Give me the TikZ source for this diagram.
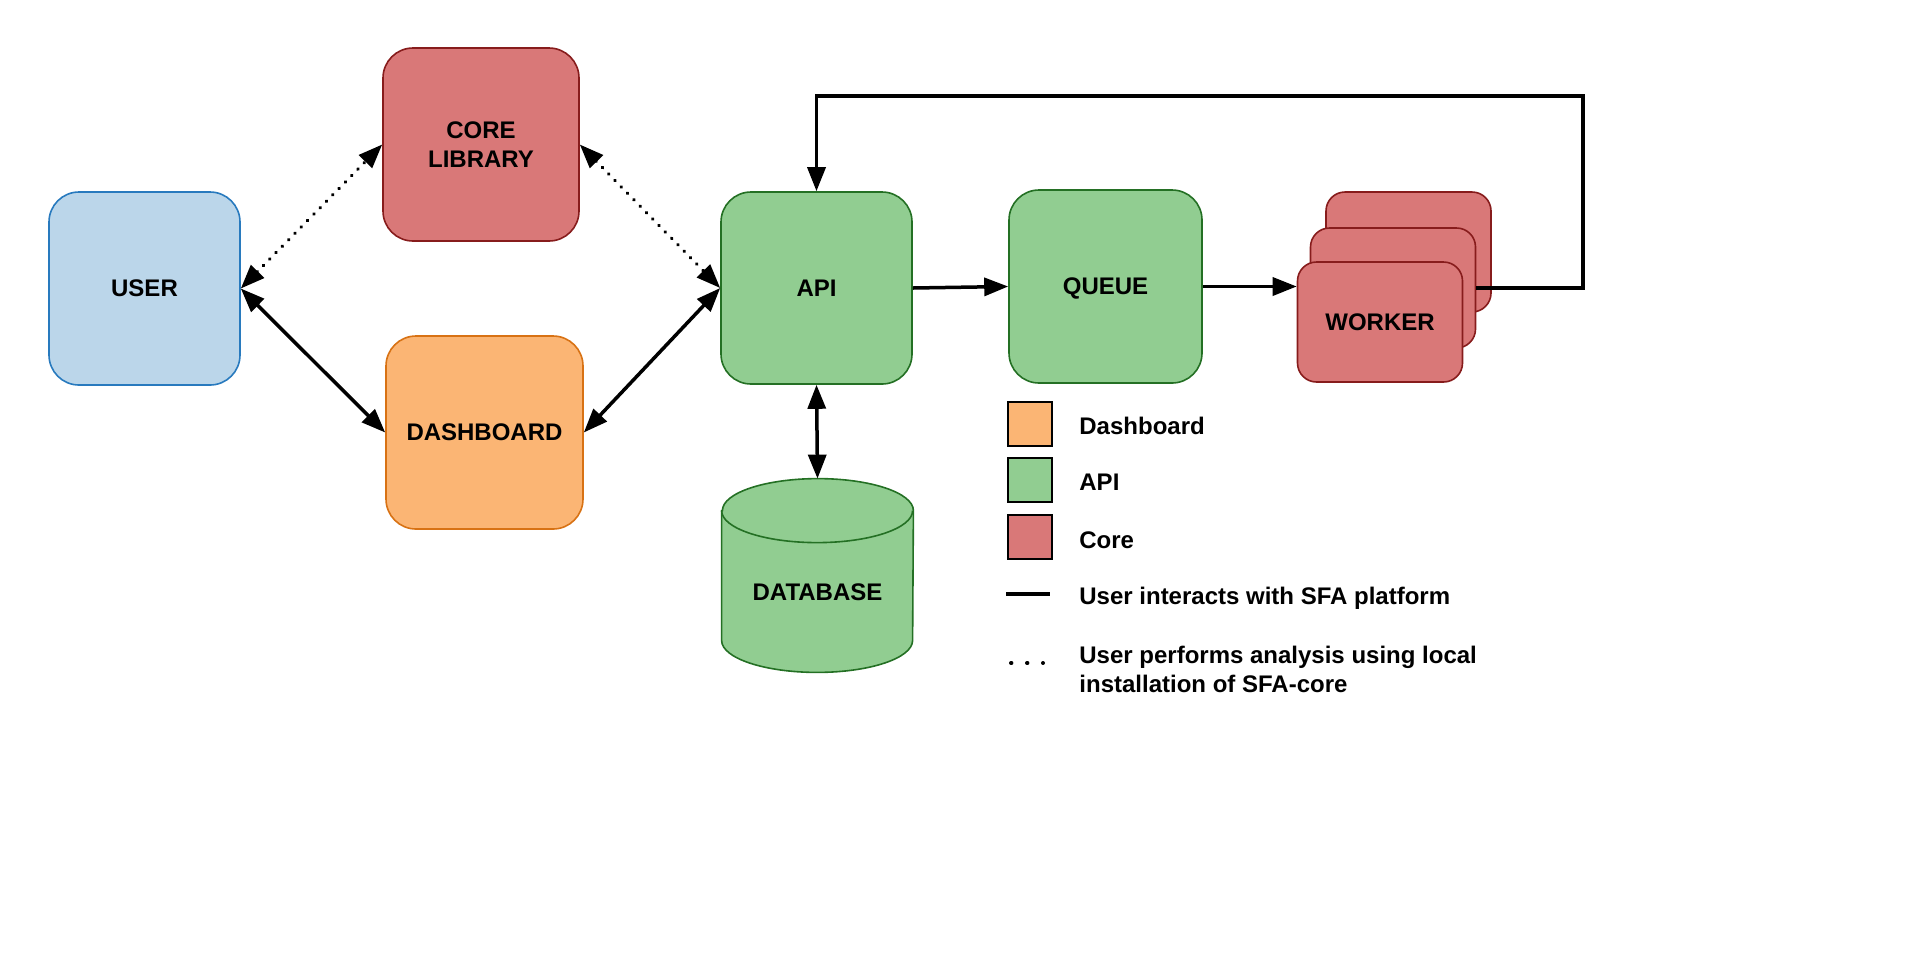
\documentclass[tikz,border=0pt]{standalone}
\usepackage{fontspec}
\setmainfont{Liberation Sans}
\usetikzlibrary{arrows.meta}
\definecolor{sfa@blue}{RGB}{187,214,234}
\definecolor{sfa@blueline}{RGB}{40,122,190}
\definecolor{sfa@red}{RGB}{217,120,120}
\definecolor{sfa@redline}{RGB}{135,28,28}
\definecolor{sfa@orange}{RGB}{251,181,116}
\definecolor{sfa@orangeline}{RGB}{216,114,20}
\definecolor{sfa@green}{RGB}{145,205,145}
\definecolor{sfa@greenline}{RGB}{36,112,36}

\begin{document}
\begin{tikzpicture}[
  x=0.5pt, y=-0.5pt,
  >={Triangle[length=12pt, width=9pt]},
  txt/.style={font=\fontsize{12}{14.25}\selectfont\bfseries, text=black},
  box/.style={
    txt, draw, line width=0.8pt, rounded corners=15pt,
    minimum width=96pt, minimum height=96pt, align=center,
  },
  card/.style={
    txt, draw=sfa@redline, fill=sfa@red, line width=0.8pt,
    rounded corners=9.5pt, minimum width=82.5pt, minimum height=60pt,
  },
  key/.style={draw=black, line width=0.9pt, minimum size=22pt, inner sep=0pt},
  link/.style={line width=1.75pt, black},
  dots/.style={link, line cap=round, dash pattern=on 0.2pt off 4.3pt},
]
\useasboundingbox (0,0) rectangle (1920,960);

% USER
\node[box, fill=sfa@blue, draw=sfa@blueline, minimum width=95.5pt, minimum height=96.5pt]
  (user) at (144.5,288.5) {USER};

% CORE LIBRARY
\node[box, fill=sfa@red, draw=sfa@redline, minimum width=98pt, minimum height=96.5pt]
  (core) at (481,144.5) {CORE\\LIBRARY};

% DASHBOARD
\node[box, fill=sfa@orange, draw=sfa@orangeline, minimum width=98.5pt, minimum height=96.5pt]
  (dash) at (484.5,432.5) {DASHBOARD};

% API
\node[box, fill=sfa@green, draw=sfa@greenline, minimum width=95.5pt]
  (api) at (816.5,288) {API};

% QUEUE
\node[box, fill=sfa@green, draw=sfa@greenline, minimum width=96.5pt, minimum height=96.5pt,
  text depth=0pt]
  (queue) at (1105.5,286.5) {QUEUE};

% WORKER stack
\node[card] (wk3) at (1408.5,252) {};
\node[card] (wk2) at (1393,288) {};
\node[card] (worker) at (1380,322) {WORKER};

% DATABASE
\node[minimum width=95.5pt, minimum height=96.5pt, inner sep=0pt]
  (db) at (817.5,575.5) {};
\filldraw[fill=sfa@green, draw=sfa@greenline, line width=0.8pt]
  ([yshift=-16pt]db.north west) -- ([yshift=16pt]db.south west)
  arc[start angle=180, end angle=360, x radius=47.75pt, y radius=16pt]
  -- ([yshift=-16pt]db.north east)
  arc[start angle=0, end angle=180, x radius=47.75pt, y radius=16pt] -- cycle;
\draw[sfa@greenline, line width=0.8pt] ([yshift=-16pt]db.north west)
  arc[start angle=180, end angle=360, x radius=47.75pt, y radius=16pt];
\node[txt] (dbtext) at (817.5,592) {DATABASE};

% connectors
\draw[dots, <->] (user.east) -- (core.west);
\draw[dots, <->] (core.east) -- (api.west);
\draw[link, <->] (user.east) -- (dash.west);
\draw[link, <->] (dash.east) -- (api.west);
\draw[link, <->] (api.south) -- (db.north);
\draw[link, ->] (api.east) -- (queue.west);
\draw[link, ->] (queue.east) -- (queue.east -| worker.west);

\coordinate (loop) at (1583,96);
\draw[link, ->] (wk2.east) -| (loop) -| (api.north);

% legend
\node[key, fill=sfa@orange] (kdash) at (1030,424) {};
\node[key, fill=sfa@green] (kapi) at (1030,480) {};
\node[key, fill=sfa@red] (kcore) at (1030,537) {};
\node[txt, anchor=base west, inner sep=0pt] (tdash) at (1079,434.3) {Dashboard};
\node[txt, anchor=base west, inner sep=0pt] (tapi) at (1079,490.7) {API};
\node[txt, anchor=base west, inner sep=0pt] (tcore) at (1079,548.3) {Core};

\draw[link] (1006,594) -- (1050,594);
\node[txt, anchor=base west, inner sep=0pt] (tsolid) at (1079,604)
  {User interacts with SFA platform};

\draw[link, line width=2pt, line cap=round, dash pattern=on 0.2pt off 7.8pt] (1011,663) -- (1043,663);
\node[txt, anchor=north west, inner sep=0pt, align=left] (tdots) at (1079,646)
  {User performs analysis using local\\installation of SFA-core};

\end{tikzpicture}
\end{document}
